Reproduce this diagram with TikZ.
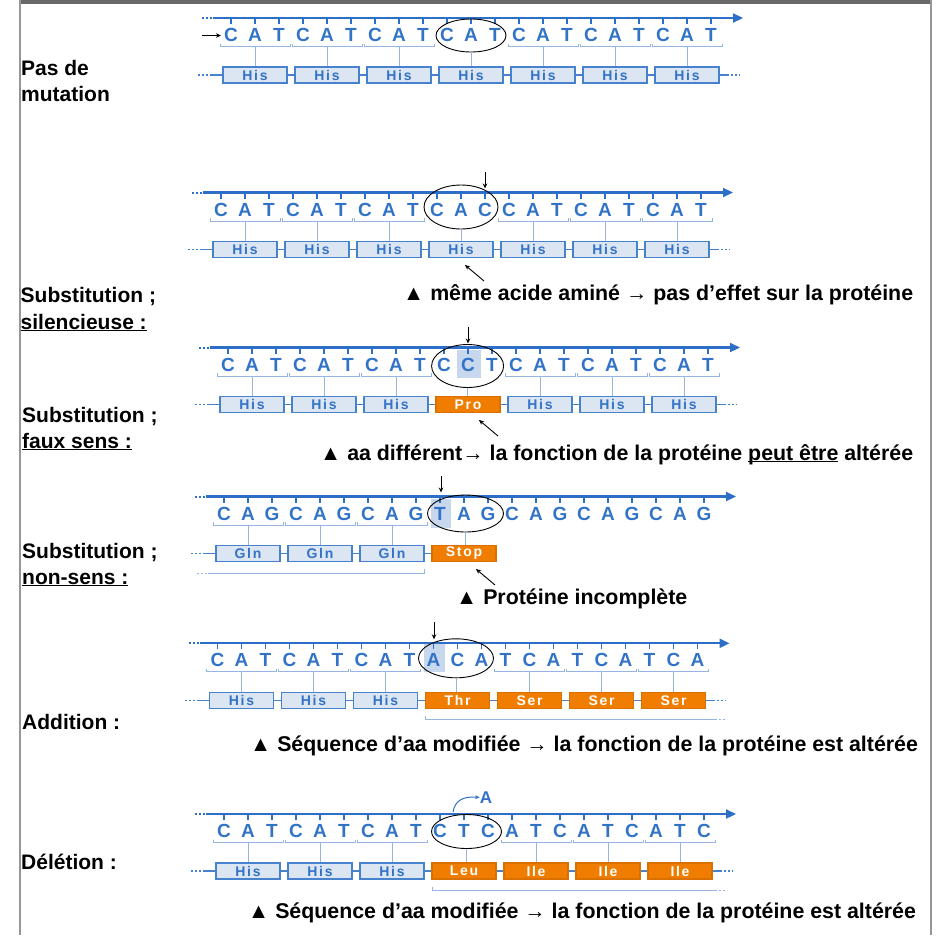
\documentclass[tikz,border=0pt]{standalone}
\usepackage{fontspec}
\setmainfont{Liberation Sans}
\newfontfamily\boxfont[LetterSpace=12]{Liberation Sans}
\usetikzlibrary{arrows.meta,shapes.geometric}
\definecolor{dnablue}{RGB}{50,115,200}
\definecolor{lineblue}{RGB}{45,110,200}
\definecolor{boxfill}{RGB}{220,230,243}
\definecolor{boxdraw}{RGB}{70,130,205}
\definecolor{brkblue}{RGB}{150,182,225}
\definecolor{mutorange}{RGB}{240,125,0}
\definecolor{hilite}{RGB}{198,215,238}
\definecolor{framegray}{RGB}{150,150,150}
\definecolor{framedark}{RGB}{105,105,105}
\tikzset{
  nucl/.style={inner sep=0pt, text=dnablue, font=\fontsize{19}{19}\selectfont\bfseries},
  strand/.style={draw=lineblue, line width=2.2pt},
  nticks/.style={draw=lineblue, line width=1.1pt},
  brkline/.style={draw=brkblue, line width=0.9pt},
  boxline/.style={draw=boxdraw, line width=1.3pt},
  aabox/.style={rectangle, draw=boxdraw, fill=boxfill, line width=1.3pt, minimum width=64pt, minimum height=16pt, inner sep=0pt, text=dnablue, font=\boxfont\fontsize{14}{14}\selectfont\bfseries},
  mutbox/.style={aabox, fill=mutorange, draw=mutorange!90!black, text=white},
  codonring/.style={ellipse, draw=black, line width=0.9pt, inner sep=0pt},
  hilitebox/.style={fill=hilite},
  lbl/.style={anchor=base west, inner sep=0pt, font=\fontsize{21}{21}\selectfont\bfseries},
  caption/.style={lbl, font=\fontsize{21.35}{21.35}\selectfont\bfseries},
  pointer/.style={draw=black, line width=0.9pt, -{Stealth[length=5pt,width=4.5pt]}},
  curvy/.style={draw=lineblue, line width=1pt, -{Stealth[length=4.5pt,width=4pt]}},
}
% id, x0, yL, letters
\newcommand\dnarow[4]{%
  \coordinate (#1s0) at ({#2-29},#3);
  \coordinate (#1s1) at ({#2-18},#3);
  \coordinate (#1s2) at ({#2+512},#3);
  \draw[strand,line width=2pt,dash pattern=on 2pt off 2pt] (#1s0) -- (#1s1);
  \draw[strand,-{Triangle[length=10pt,width=9pt]}] (#1s1) -- (#1s2);
  \foreach \L [count=\i from 0] in {#4} {
    \draw[nticks] ({#2+24*\i},#3) -- ({#2+24*\i},{#3+6});
    \node[nucl] (#1n\i) at ({#2+24*\i},{#3+17}) {\L};
  }%
}
% id, x0, yL, codon list
\newcommand\codonbrk[4]{%
  \foreach \k in {#4} {
    \coordinate (#1c\k) at ({#2+24+72*\k},{#3+28.5});
    \draw[brkline] ({#2+24+72*\k-35},{#3+25.5}) -- ({#2+24+72*\k-35},{#3+28.5}) -- ({#2+24+72*\k+35},{#3+28.5}) -- ({#2+24+72*\k+35},{#3+25.5});
  }%
}
% id, x0, yL, name/style list
\newcommand\aarow[4]{%
  \foreach \nm/\st [count=\k from 0] in {#4} {
    \node[\st] (#1b\k) at ({#2+24+72*\k},{#3+57}) {\nm};
    \draw[brkline] (#1c\k) -- (#1c\k |- #1b\k.north);
    \ifnum\k>0
      \pgfmathtruncatemacro\kp{\k-1}
      \draw[boxline] (#1b\kp.east) -- (#1b\k.west);
    \fi
  }%
  \draw[boxline,dash pattern=on 2pt off 2pt] ([xshift=-24pt]#1b0.west) coordinate (#1p0) -- ([xshift=-10pt]#1b0.west) coordinate (#1p1);
  \draw[boxline] (#1p1) -- (#1b0.west);
}
% id, last box index
\newcommand\rowtail[2]{%
  \draw[boxline] (#1b#2.east) -- ([xshift=7pt]#1b#2.east) coordinate (#1q0);
  \draw[boxline,dash pattern=on 2pt off 2pt] (#1q0) -- ([xshift=20pt]#1b#2.east) coordinate (#1q1);
}
\begin{document}
\begin{tikzpicture}[x=1pt,y=-1pt]
\useasboundingbox (0,0) rectangle (940,935);
% frame
\fill[framedark] (20,0) rectangle (932,3.5);
\draw[framegray,line width=2pt] (20,0) -- (20,935);
\draw[framegray,line width=2pt] (931,0) -- (931,935);

% ---------- S1 : pas de mutation
\dnarow{a}{231}{18}{C,A,T,C,A,T,C,A,T,C,A,T,C,A,T,C,A,T,C,A,T}
\node[codonring,minimum width=70pt,minimum height=33pt] (ae) at (471,35.5) {};
\codonbrk{a}{231}{18}{0,1,2,4,5,6}
\coordinate (ac3) at (ae.south);
\aarow{a}{231}{18}{His/aabox,His/aabox,His/aabox,His/aabox,His/aabox,His/aabox,His/aabox}
\rowtail{a}{6}
\coordinate (ar0) at (202,35.5);
\coordinate (ar1) at (221,35.5);
\draw[pointer] (ar0) -- (ar1);
\node[lbl] (la1) at (21,75) {Pas de};
\node[lbl] (la2) at (21,101) {mutation};

% ---------- S2 : silencieuse
\dnarow{b}{221}{192.5}{C,A,T,C,A,T,C,A,T,C,A,C,C,A,T,C,A,T,C,A,T}
\node[codonring,minimum width=74pt,minimum height=44pt] (be) at (461,207) {};
\codonbrk{b}{221}{192.5}{0,1,2,4,5,6}
\coordinate (bc3) at (be.south);
\aarow{b}{221}{192.5}{His/aabox,His/aabox,His/aabox,His/aabox,His/aabox,His/aabox,His/aabox}
\rowtail{b}{6}
\coordinate (bd0) at (485,171.5);
\coordinate (bd1) at (485,188.5);
\draw[pointer] (bd0) -- (bd1);
\coordinate (bt0) at (484,281);
\coordinate (bt1) at (465,265);
\draw[pointer] (bt0) -- (bt1);
\node[lbl] (lb1) at (20.5,302) {Substitution ;};
\node[lbl] (lb2) at (20.5,329) {\underline{silencieuse :}};
\node[caption] (bcap) at (403,300) {▲ même acide aminé → pas d’effet sur la protéine};

% ---------- S3 : faux sens
\fill[hilitebox] (457,350) rectangle (481,378);
\dnarow{c}{228}{347.5}{C,A,T,C,A,T,C,A,T,C,C,T,C,A,T,C,A,T,C,A,T}
\node[codonring,minimum width=72pt,minimum height=43pt] (ce) at (467.6,366) {};
\codonbrk{c}{228}{347.5}{0,1,2,4,5,6}
\coordinate (cc3) at (ce.south);
\aarow{c}{228}{347.5}{His/aabox,His/aabox,His/aabox,Pro/mutbox,His/aabox,His/aabox,His/aabox}
\rowtail{c}{6}
\coordinate (cd0) at (468,326.5);
\coordinate (cd1) at (468,343.5);
\draw[pointer] (cd0) -- (cd1);
\coordinate (ct0) at (498,436);
\coordinate (ct1) at (479,420);
\draw[pointer] (ct0) -- (ct1);
\node[lbl] (lc1) at (22,422) {Substitution ;};
\node[lbl] (lc2) at (22,448) {\underline{faux sens :}};
\node[caption] (ccap) at (320,460) {▲ aa différent→ la fonction de la protéine \underline{\smash{peut être}} altérée};

% ---------- S4 : non-sens
\fill[hilitebox] (431,499) rectangle (451,528);
\dnarow{d}{224}{496.5}{C,A,G,C,A,G,C,A,G,T,A,G,C,A,G,C,A,G,C,A,G}
\node[codonring,minimum width=76pt,minimum height=37pt] (de) at (465.5,513.5) {};
\codonbrk{d}{224}{496.5}{0,1,2}
\coordinate (dc3) at (de.south);
\aarow{d}{224}{496.5}{Gln/aabox,Gln/aabox,Gln/aabox,Stop/mutbox}
\coordinate (dl0) at (197,573);
\coordinate (dl1) at (208,573);
\coordinate (dl2) at (424,573);
\coordinate (dl3) at (424,569);
\draw[brkline,dash pattern=on 2pt off 2pt] (dl0) -- (dl1);
\draw[brkline] (dl1) -- (dl2) -- (dl3);
\coordinate (dd0) at (441,475.5);
\coordinate (dd1) at (441,492.5);
\draw[pointer] (dd0) -- (dd1);
\coordinate (dt0) at (495,585);
\coordinate (dt1) at (476,569);
\draw[pointer] (dt0) -- (dt1);
\node[lbl] (ld1) at (22,558) {Substitution ;};
\node[lbl] (ld2) at (22,584) {\underline{non-sens :}};
\node[caption] (dcap) at (456,604) {▲ Protéine incomplète};

% ---------- S5 : addition
\fill[hilitebox] (424,644) rectangle (445,672);
\dnarow{e}{217.5}{643.3}{C,A,T,C,A,T,C,A,T,A,C,A,T,C,A,T,C,A,T,C,A}
\node[codonring,minimum width=75pt,minimum height=39pt] (ee) at (456,658.3) {};
\codonbrk{e}{217.5}{643.3}{0,1,2,4,5,6}
\coordinate (ec3) at (ee.south);
\aarow{e}{217.5}{643.3}{His/aabox,His/aabox,His/aabox,Thr/mutbox,Ser/mutbox,Ser/mutbox,Ser/mutbox}
\rowtail{e}{6}
\coordinate (el0) at (425,716);
\coordinate (el1) at (425,719.5);
\coordinate (el2) at (715,719.5);
\coordinate (el3) at (725,719.5);
\draw[brkline] (el0) -- (el1) -- (el2);
\draw[brkline,dash pattern=on 2pt off 2pt] (el2) -- (el3);
\coordinate (ed0) at (434,622.3);
\coordinate (ed1) at (434,639.3);
\draw[pointer] (ed0) -- (ed1);
\node[lbl] (le1) at (22,729) {Addition :};
\node[caption] (ecap) at (250,751) {▲ Séquence d’aa modifiée → la fonction de la protéine est altérée};

% ---------- S6 : deletion
\dnarow{f}{224}{814}{C,A,T,C,A,T,C,A,T,C,T,C,A,T,C,A,T,C,A,T,C}
\node[codonring,minimum width=70pt,minimum height=34pt] (fe) at (466.5,831.5) {};
\codonbrk{f}{224}{814}{0,1,2,4,5,6}
\coordinate (fc3) at (fe.south);
\aarow{f}{224}{814}{His/aabox,His/aabox,His/aabox,Leu/mutbox,Ile/mutbox,Ile/mutbox,Ile/mutbox}
\rowtail{f}{6}
\coordinate (fl0) at (432,886.5);
\coordinate (fl1) at (432,890);
\coordinate (fl2) at (715,890);
\coordinate (fl3) at (725,890);
\draw[brkline] (fl0) -- (fl1) -- (fl2);
\draw[brkline,dash pattern=on 2pt off 2pt] (fl2) -- (fl3);
\node[nucl,font=\fontsize{17}{17}\selectfont\bfseries] (fA) at (486,797.5) {A};
\coordinate (fk0) at (453,812);
\draw[curvy] (fk0) .. controls (455,800) and (464,796) .. (fA.west);
\node[lbl] (lf1) at (21,869) {Délétion :};
\node[caption] (fcap) at (248,918) {▲ Séquence d’aa modifiée → la fonction de la protéine est altérée};
\end{tikzpicture}
\end{document}
